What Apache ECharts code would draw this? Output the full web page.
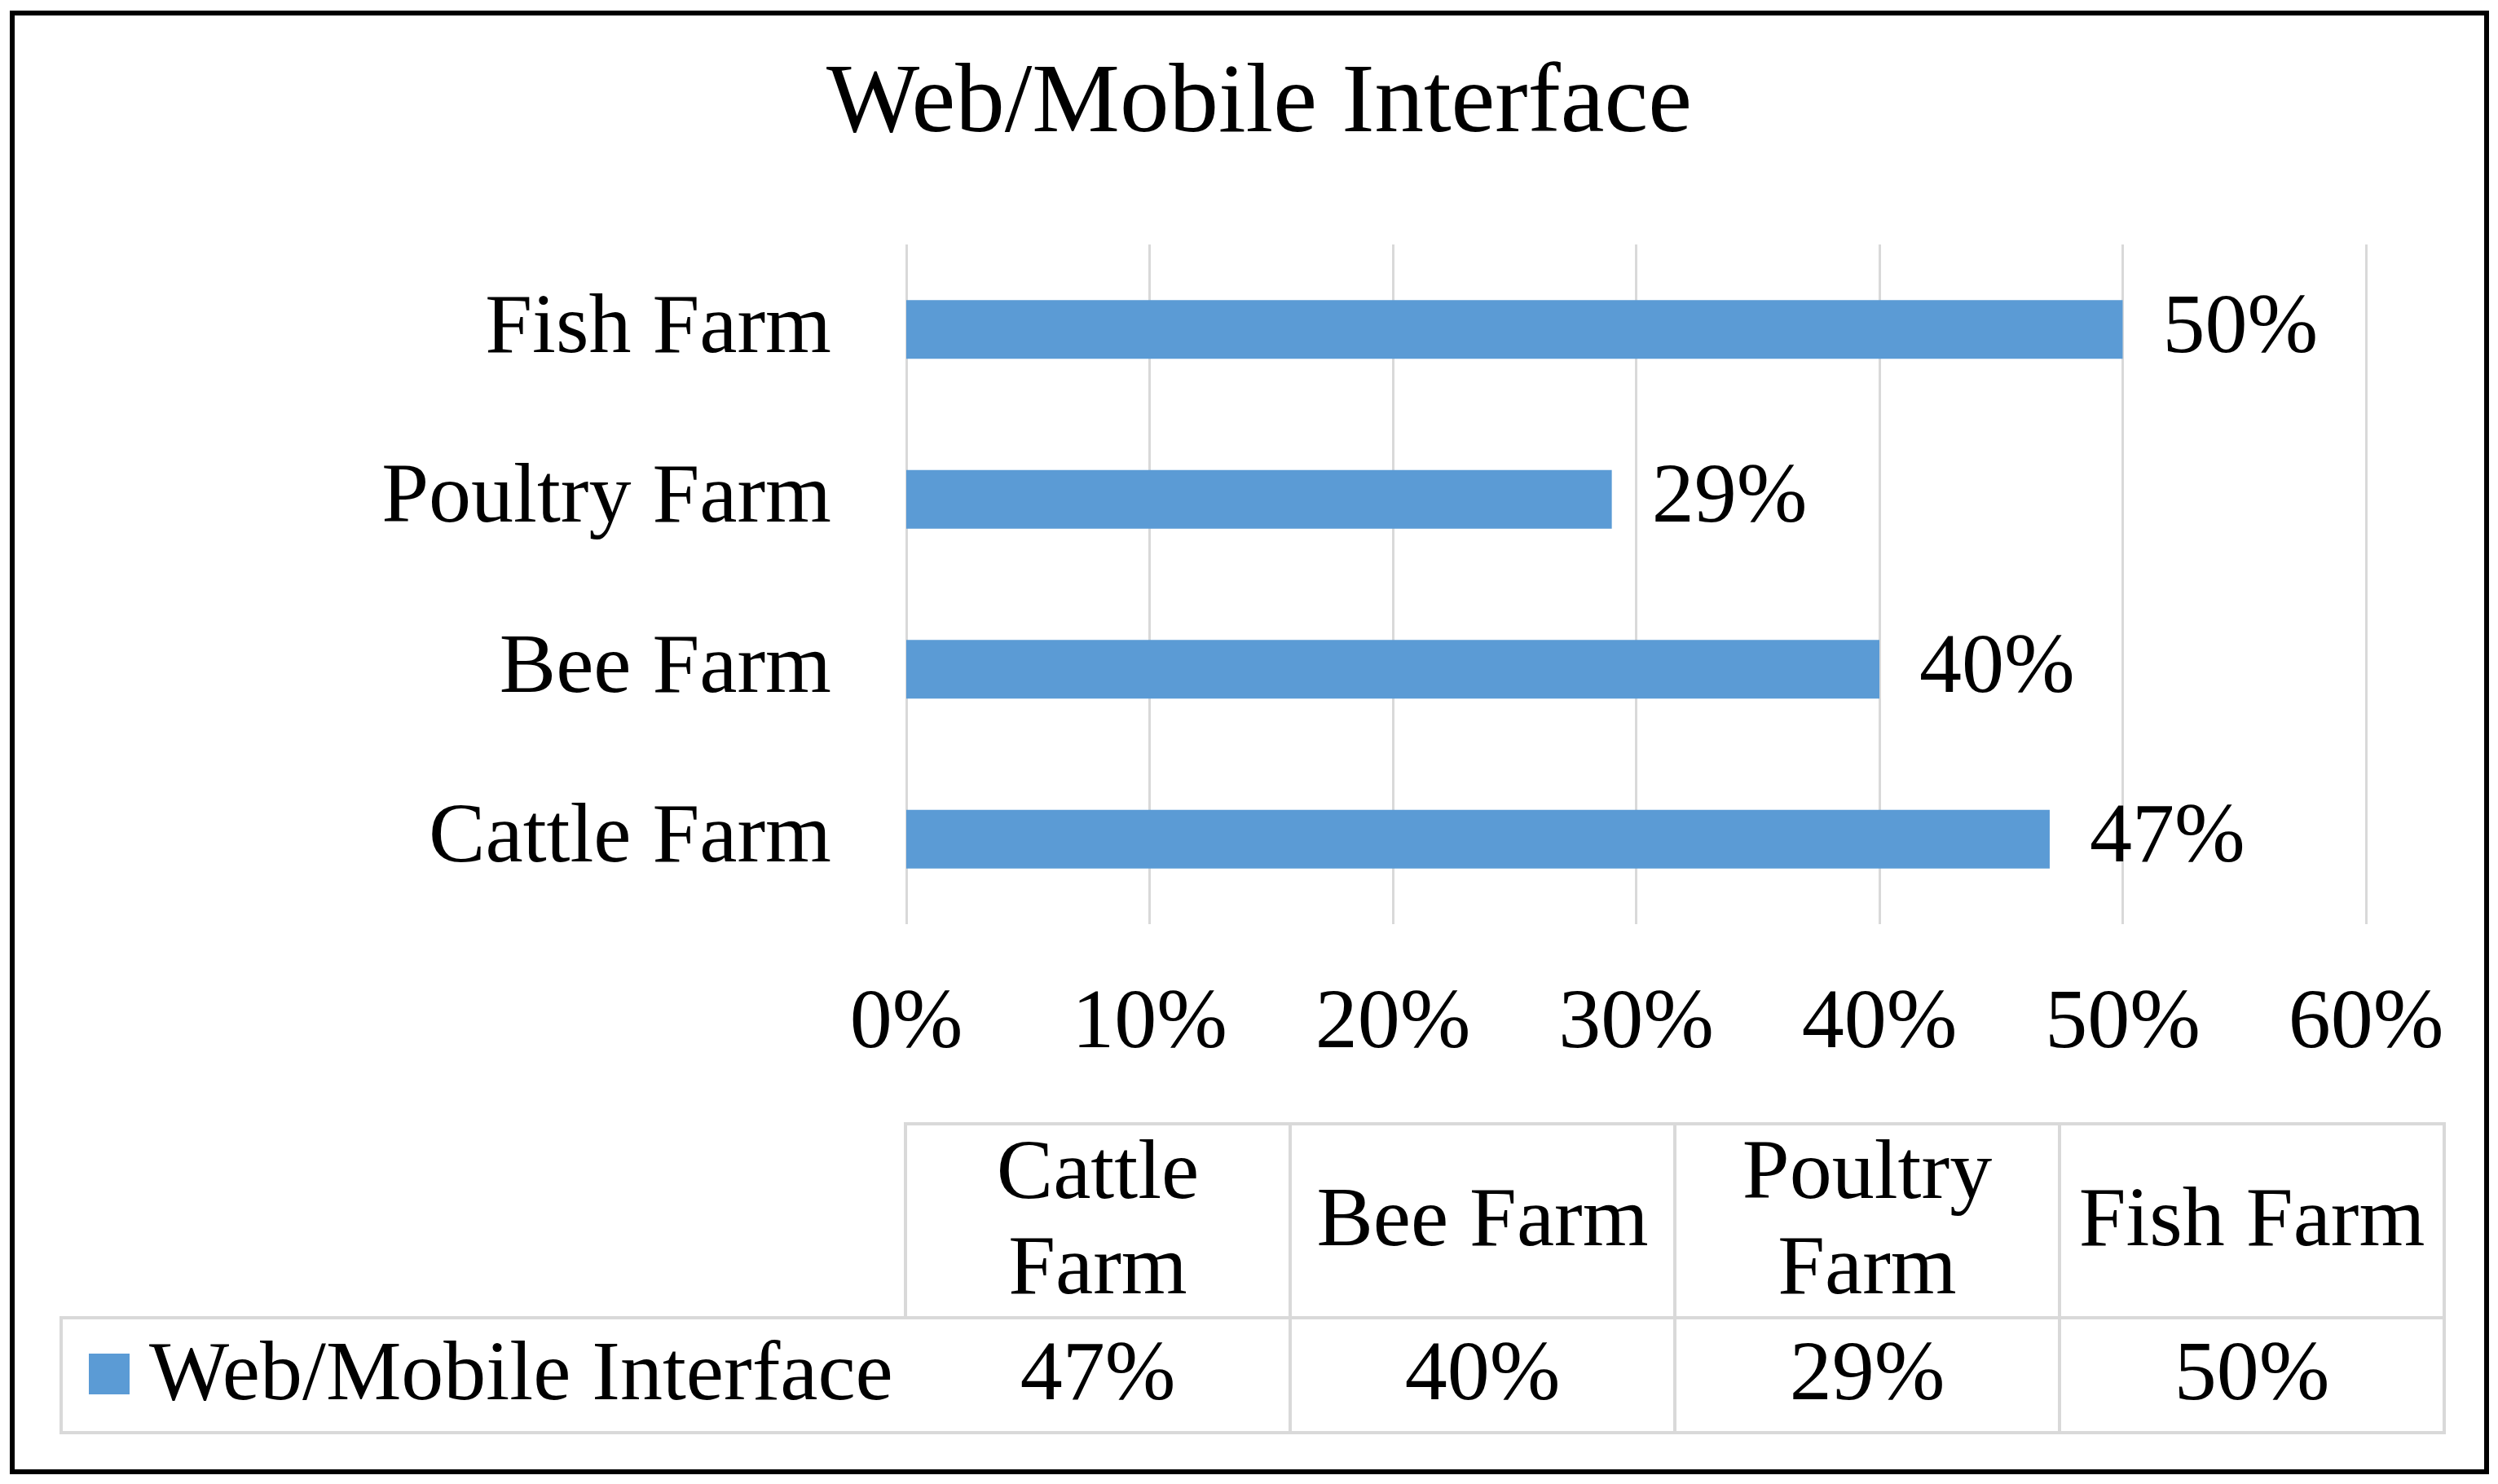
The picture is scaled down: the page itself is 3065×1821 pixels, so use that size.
<!DOCTYPE html>
<html>
<head>
<meta charset="utf-8">
<title>Web/Mobile Interface</title>
<script src="https://cdn.jsdelivr.net/npm/echarts@6/dist/echarts.min.js"></script>
<style>
  html, body { margin: 0; padding: 0; background: #fff; }
  #chart { width: 3065px; height: 1821px; }
</style>
</head>
<body>
<div id="chart"></div>
<script>
// data
const chartTitle = 'Web/Mobile Interface';
const categories = ['Cattle Farm', 'Bee Farm', 'Poultry Farm', 'Fish Farm'];
const headerLabels = ['Cattle\nFarm', 'Bee Farm', 'Poultry\nFarm', 'Fish Farm'];
const seriesName = 'Web/Mobile Interface';
const values = [47, 40, 29, 50];
const xTicks = [0, 10, 20, 30, 40, 50, 60];

const FONT = '"Liberation Serif", "Times New Roman", serif';
const BLUE = '#5B9BD5';
const GRID = '#d9d9d9';

// data table geometry (pixels)
const tLeft = 75, tCol0 = 1111, tRight = 2999;
const tTop = 1379, tMid = 1617, tBottom = 1758;
const colW = (tRight - tCol0) / categories.length;

const graphics = [];
// outer black frame
graphics.push({
  type: 'rect', shape: { x: 15, y: 16, width: 3036, height: 1790 },
  style: { fill: null, stroke: '#000', lineWidth: 6 }, silent: true
});
// table: header block and value row
graphics.push({
  type: 'rect', shape: { x: tCol0, y: tTop, width: tRight - tCol0, height: tMid - tTop },
  style: { fill: null, stroke: GRID, lineWidth: 4 }, silent: true
});
graphics.push({
  type: 'rect', shape: { x: tLeft, y: tMid, width: tRight - tLeft, height: tBottom - tMid },
  style: { fill: null, stroke: GRID, lineWidth: 4 }, silent: true
});
categories.forEach((c, i) => {
  const x0 = tCol0 + colW * i;
  if (i > 0) {
    graphics.push({
      type: 'line', shape: { x1: x0, y1: tTop, x2: x0, y2: tBottom },
      style: { stroke: GRID, lineWidth: 4 }, silent: true
    });
  }
  graphics.push({
    type: 'text', silent: true,
    style: {
      text: headerLabels[i], x: x0 + colW / 2, y: (tTop + tMid) / 2 + 3,
      align: 'center', verticalAlign: 'middle', lineHeight: 117,
      fontSize: 104, fontFamily: FONT, fill: '#000'
    }
  });
  graphics.push({
    type: 'text', silent: true,
    style: {
      text: values[i] + '%', x: x0 + colW / 2, y: (tMid + tBottom) / 2 + 2,
      align: 'center', verticalAlign: 'middle',
      fontSize: 104, fontFamily: FONT, fill: '#000'
    }
  });
});
// legend key inside the table
graphics.push({
  type: 'rect', shape: { x: 109, y: 1661, width: 50, height: 50 },
  style: { fill: BLUE }, silent: true
});
graphics.push({
  type: 'text', silent: true,
  style: {
    text: seriesName, x: 183, y: (tMid + tBottom) / 2 + 2,
    align: 'left', verticalAlign: 'middle',
    fontSize: 104, fontFamily: FONT, fill: '#000'
  }
});

const chart = echarts.init(document.getElementById('chart'));
chart.setOption({
  animation: false,
  backgroundColor: '#fff',
  title: {
    text: chartTitle,
    left: 1540,
    top: 64,
    textAlign: 'center',
    textStyle: { fontFamily: FONT, fontSize: 121, fontWeight: 'normal', color: '#000' }
  },
  grid: { left: 1112, right: 162, top: 300, bottom: 687, containLabel: false },
  xAxis: {
    type: 'value',
    min: xTicks[0],
    max: xTicks[xTicks.length - 1],
    interval: xTicks[1] - xTicks[0],
    axisLine: { show: false },
    axisTick: { show: false },
    splitLine: { show: true, lineStyle: { color: GRID, width: 3 } },
    axisLabel: {
      margin: 72,
      formatter: v => v + '%',
      fontFamily: FONT, fontSize: 104, color: '#000'
    }
  },
  yAxis: {
    type: 'category',
    data: categories,
    axisLine: { show: false },
    axisTick: { show: false },
    axisLabel: { margin: 92, fontFamily: FONT, fontSize: 104, color: '#000' }
  },
  series: [{
    name: seriesName,
    type: 'bar',
    data: values,
    barWidth: 72,
    itemStyle: { color: BLUE },
    label: {
      show: true,
      position: 'right',
      distance: 49,
      formatter: p => p.value + '%',
      fontFamily: FONT, fontSize: 104, color: '#000'
    }
  }],
  graphic: graphics
});
</script>
</body>
</html>
